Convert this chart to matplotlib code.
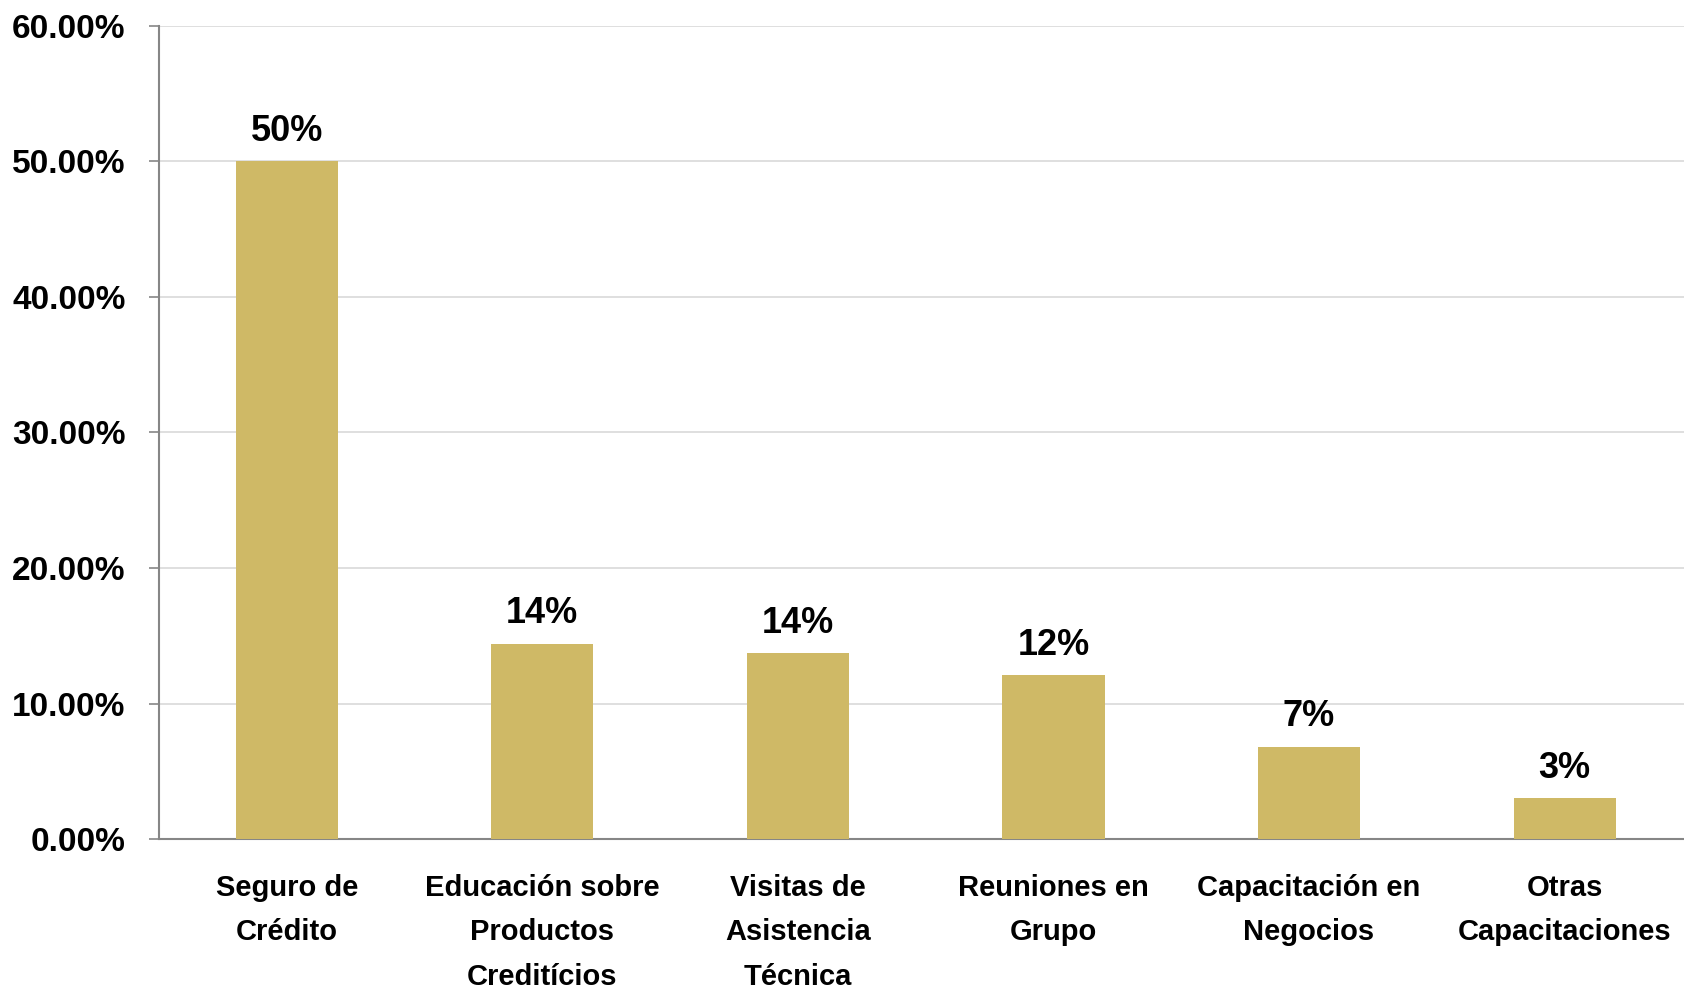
#!/usr/bin/env python3

import matplotlib.pyplot as plt
from matplotlib import font_manager
from matplotlib.ticker import PercentFormatter
import numpy as np

categories = [
    "Seguro de\nCrédito",
    "Educación sobre\nProductos\nCreditícios",
    "Visitas de\nAsistencia\nTécnica",
    "Reuniones en\nGrupo",
    "Capacitación en\nNegocios",
    "Otras\nCapacitaciones",
]
values = [50.0, 14.4, 13.7, 12.1, 6.8, 3.0]
labels = ["50%", "14%", "14%", "12%", "7%", "3%"]

names = {f.name for f in font_manager.fontManager.ttflist}
family = "Liberation Sans Narrow" if "Liberation Sans Narrow" in names else "Liberation Sans"
plt.rcParams["font.family"] = [family, "DejaVu Sans"]
plt.rcParams["font.weight"] = "bold"

fig = plt.figure(figsize=(16.84, 9.93), dpi=100)
ax = fig.add_axes([0.0944, 0.155, 0.9106, 0.819])

x = np.arange(len(categories))
ax.bar(x, values, width=0.4, color="#CFB966", zorder=3)

for xi, v, lab in zip(x, values, labels):
    ax.annotate(lab, (xi, v), xytext=(0, 9), textcoords="offset points",
                ha="center", va="bottom", fontsize=26, fontweight="bold")

ax.set_xlim(-0.5, len(categories) - 0.5)
ax.set_ylim(0, 60)
ax.set_yticks(np.arange(0, 61, 10))
ax.yaxis.set_major_formatter(PercentFormatter(decimals=2))
ax.grid(True, axis="y", color="#D9D9D9", linewidth=1.2, zorder=0)

ax.set_xticks(x)
ax.set_xticklabels(categories, fontsize=21, fontweight="bold", linespacing=1.75)
ax.tick_params(axis="x", length=0, pad=25)
ax.tick_params(axis="y", labelsize=24, length=7, color="#868686", width=1.2, pad=17)

for side in ["top", "right"]:
    ax.spines[side].set_visible(False)
for side in ["left", "bottom"]:
    ax.spines[side].set_color("#868686")
    ax.spines[side].set_linewidth(1.5)

fig.savefig("out.png", dpi=100)
